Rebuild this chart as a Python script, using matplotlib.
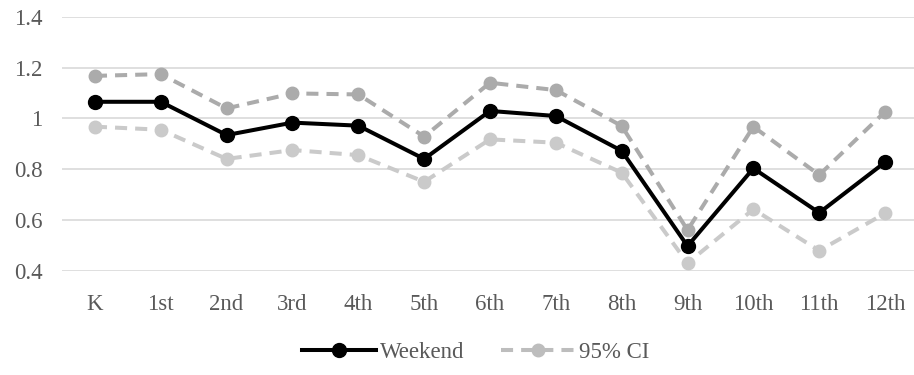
import matplotlib
matplotlib.use("Agg")
import matplotlib.pyplot as plt
from matplotlib.lines import Line2D

# Grade levels and estimated weekend ratio with 95% confidence bounds
grades = ["K", "1st", "2nd", "3rd", "4th", "5th", "6th",
          "7th", "8th", "9th", "10th", "11th", "12th"]
weekend = [1.065, 1.065, 0.934, 0.983, 0.971, 0.840, 1.029,
           1.009, 0.872, 0.497, 0.803, 0.628, 0.827]
ci_upper = [1.167, 1.174, 1.039, 1.098, 1.094, 0.928, 1.140,
            1.111, 0.970, 0.560, 0.967, 0.777, 1.026]
ci_lower = [0.967, 0.955, 0.840, 0.875, 0.855, 0.750, 0.917,
            0.904, 0.786, 0.430, 0.642, 0.479, 0.626]
yticks = [0.4, 0.6, 0.8, 1.0, 1.2, 1.4]
ytick_labels = ["0.4", "0.6", "0.8", "1", "1.2", "1.4"]

TEXT = "#595959"
GRID = "#D9D9D9"
UPPER = "#ABABAB"
LOWER = "#CACACA"
FS = 16.5

plt.rcParams["font.family"] = ["Liberation Serif", "DejaVu Serif"]

fig = plt.figure(figsize=(9.14, 3.75), dpi=100)
ax = fig.add_axes([62 / 914, 1 - 270.7 / 375, 856 / 914, 254 / 375])

x = list(range(len(grades)))
dash = (3, 2)
ax.plot(x, ci_lower, color=LOWER, lw=2.9, ls=(0, dash), marker="o",
        markersize=9, zorder=3, clip_on=False)
ax.plot(x, ci_upper, color=UPPER, lw=2.9, ls=(0, dash), marker="o",
        markersize=9, zorder=3, clip_on=False)
ax.plot(x, weekend, color="black", lw=2.9, marker="o",
        markersize=10, zorder=4, clip_on=False)

ax.set_xlim(-0.5, len(grades) - 0.5)
ax.set_ylim(0.4, 1.4)
ax.set_yticks(yticks)
ax.set_yticklabels(ytick_labels)
ax.set_xticks(x)
ax.set_xticklabels(grades)
ax.tick_params(axis="both", length=0, labelsize=FS, labelcolor=TEXT)
ax.tick_params(axis="y", pad=14)
ax.tick_params(axis="x", pad=16.5)
ax.grid(axis="y", color=GRID, lw=1.2)
ax.set_axisbelow(True)
for s in ax.spines.values():
    s.set_visible(False)

handles = [
    Line2D([], [], color="black", lw=2.9, marker="o", markersize=10),
    Line2D([], [], color="#BDBDBD", lw=2.9, ls=(0, dash), marker="o",
           markersize=9),
]
fig.legend(handles, ["Weekend", "95% CI"], loc="center",
           bbox_to_anchor=(476 / 914, 1 - 352 / 375), ncol=2, frameon=False,
           fontsize=FS, labelcolor=TEXT, handlelength=3.2,
           handletextpad=0.2, columnspacing=1.6)

fig.savefig("out.png", dpi=100)
